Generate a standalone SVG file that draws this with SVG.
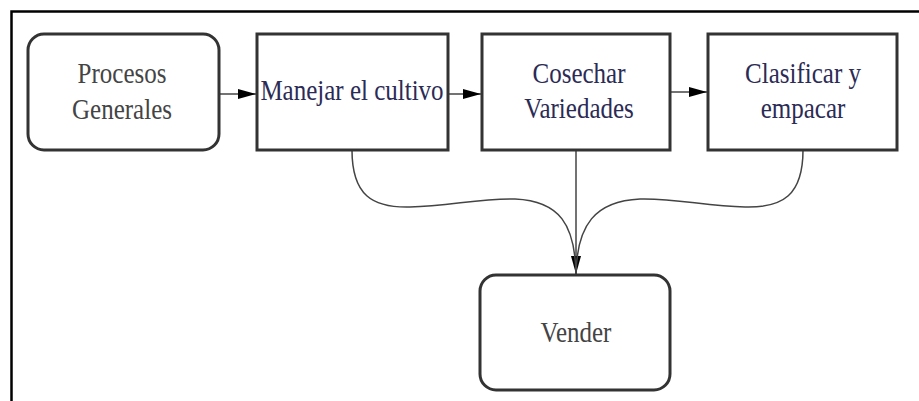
<svg xmlns="http://www.w3.org/2000/svg" width="919" height="401" viewBox="0 0 919 401">
<style>
.box{fill:#fff;stroke:#333;stroke-width:3}
.t{font-family:"Liberation Serif","Times New Roman",serif;font-size:25px;text-anchor:middle}
.gray{fill:#444}
.navy{fill:#2b2b55}
.edge{fill:none;stroke:#444;stroke-width:1.5}
</style>
<defs>
<marker id="ah" viewBox="0 0 18 10" refX="18" refY="5" markerWidth="18" markerHeight="10" markerUnits="userSpaceOnUse" orient="auto">
<path d="M0,0 L18,5 L0,10 Z" fill="#000"/>
</marker>
</defs>
<rect width="919" height="401" fill="#fff"/>
<path d="M11.5,401 V11.5 H919" fill="none" stroke="#000" stroke-width="2.5"/>
<g id="connectors">
<path class="edge" d="M219,94 H256" marker-end="url(#ah)"/>
<path class="edge" d="M448,94 H481" marker-end="url(#ah)"/>
<path class="edge" d="M670,92 H707" marker-end="url(#ah)"/>
<path class="edge" d="M576,150 V274" marker-end="url(#ah)"/>
<path class="edge" d="M352,150 C352,195 372,208 410,207 C450,206 480,198 515,199 C560,201 575,225 576,274"/>
<path class="edge" d="M803,150 C803,195 783,208 745,207 C705,206 675,198 640,199 C595,201 577,225 576,274"/>
</g>
<g id="procesos">
<rect class="box" x="28" y="34" width="191" height="116" rx="16"/>
<text class="t gray" transform="translate(122,83) scale(1,1.2)">Procesos</text>
<text class="t gray" transform="translate(122,119) scale(1,1.2)">Generales</text>
</g>
<g id="manejar">
<rect class="box" x="257" y="34" width="191" height="116"/>
<text class="t navy" transform="translate(352,100) scale(1,1.2)">Manejar el cultivo</text>
</g>
<g id="cosechar">
<rect class="box" x="482" y="34" width="188" height="116"/>
<text class="t navy" transform="translate(579,83) scale(1,1.2)">Cosechar</text>
<text class="t navy" transform="translate(579,118) scale(1,1.2)">Variedades</text>
</g>
<g id="clasificar">
<rect class="box" x="708" y="34" width="189" height="116"/>
<text class="t navy" transform="translate(803,83) scale(1,1.2)">Clasificar y</text>
<text class="t navy" transform="translate(803,118) scale(1,1.2)">empacar</text>
</g>
<g id="vender">
<rect class="box" x="480" y="275" width="190" height="115" rx="16"/>
<text class="t gray" transform="translate(576,342) scale(1,1.2)">Vender</text>
</g>
</svg>
